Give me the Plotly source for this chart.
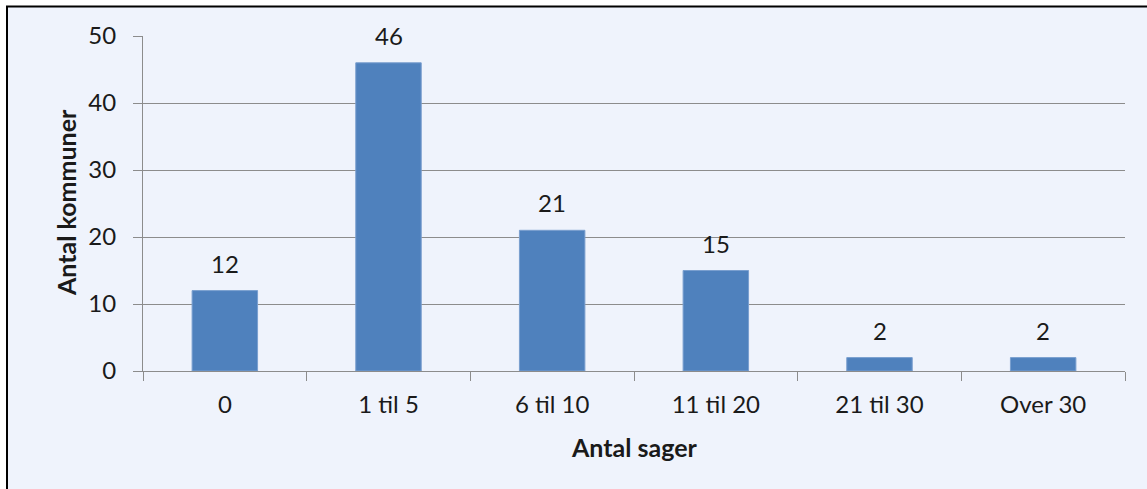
import plotly.graph_objects as go

categories = ["0", "1 til 5", "6 til 10", "11 til 20", "21 til 30", "Over 30"]
values = [12, 46, 21, 15, 2, 2]
y_ticks = [0, 10, 20, 30, 40, 50]

W, H = 1147, 489
L, R, T, B = 143, 22, 36, 118
pw, ph = W - L - R, H - T - B

def px_x(px):
    return (px - L) / pw

def px_y(py):
    return (H - B - py) / ph

FONT = "Lato"
BG = "#EFF3FC"
TXT = "#1a1a1a"
GRID = "#8C8C8C"

fig = go.Figure()
fig.add_trace(go.Bar(
    x=categories, y=values,
    marker=dict(color="#4F81BD", line=dict(color="#7A9FCF", width=1)),
    width=0.4,
))

for c, v in zip(categories, values):
    fig.add_annotation(x=c, y=v, text=str(v), showarrow=False,
                       yanchor="bottom", yshift=11,
                       font=dict(family=FONT, size=24, color=TXT))

# axis titles
fig.add_annotation(xref="paper", yref="paper", x=px_x(634), y=px_y(447),
                   text="<b>Antal sager</b>", showarrow=False,
                   xanchor="center", yanchor="middle",
                   font=dict(family=FONT, size=25, color=TXT))
fig.add_annotation(xref="paper", yref="paper", x=px_x(66), y=px_y(203),
                   text="<b>Antal kommuner</b>", showarrow=False, textangle=-90,
                   xanchor="center", yanchor="middle",
                   font=dict(family=FONT, size=25, color=TXT))

fig.add_shape(type="rect", xref="paper", yref="paper", layer="below",
              x0=px_x(7), x1=px_x(W + 20), y0=px_y(H + 20), y1=px_y(6.5),
              fillcolor=BG, line=dict(color="black", width=2))

fig.update_layout(
    width=W, height=H,
    margin=dict(l=L, r=R, t=T, b=B),
    paper_bgcolor="white", plot_bgcolor="rgba(0,0,0,0)",
    showlegend=False,
    font=dict(family=FONT, size=24, color=TXT),
    bargap=0.6,
)
fig.update_xaxes(
    type="category", tickson="boundaries", ticks="outside", ticklen=9,
    tickcolor=GRID, showline=True, linecolor=GRID, linewidth=1,
    showgrid=False, tickfont=dict(family=FONT, size=24, color=TXT),
    ticklabelstandoff=12,
)
fig.update_yaxes(
    range=[0, 50], tickvals=y_ticks, ticks="outside", ticklen=9,
    tickcolor=GRID, showline=True, linecolor=GRID, linewidth=1,
    showgrid=True, gridcolor=GRID, gridwidth=1, zeroline=False,
    tickfont=dict(family=FONT, size=24, color=TXT),
    ticklabelstandoff=12,
)

fig.write_html("out.html", config={"displayModeBar": False},
               post_script="document.body.style.margin='0';")
